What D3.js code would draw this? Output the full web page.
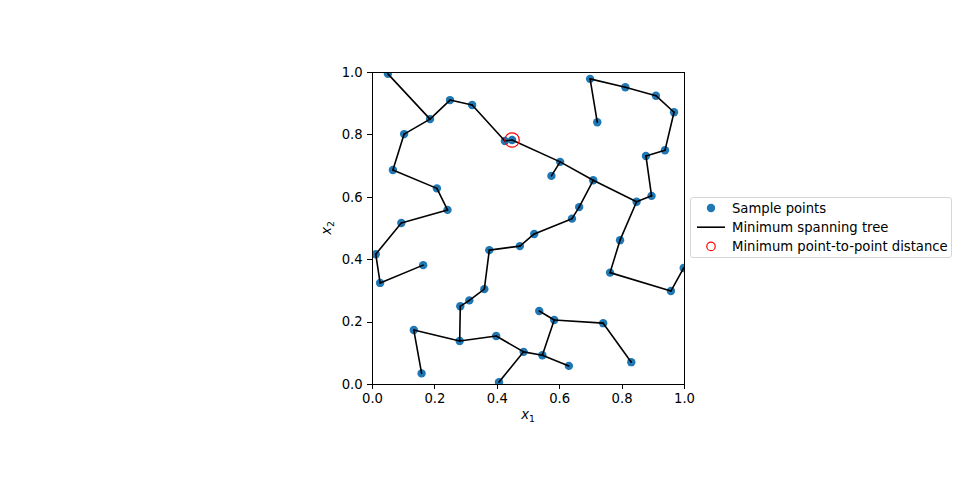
<!DOCTYPE html>
<meta charset="utf-8">
<style>
body { margin: 0; background: #fff; }
svg text { font-family: "DejaVu Sans", sans-serif; font-size: 13.2px; fill: #000; }
.axis path, .axis line { stroke: #000; stroke-width: 1px; shape-rendering: crispEdges; }
.mst line { stroke: #000; stroke-width: 1.6px; stroke-linecap: round; }
</style>
<svg width="960" height="480"></svg>
<script src="https://d3js.org/d3.v7.min.js"></script>
<script>

// sample points
var xs = [0.051, 0.186, 0.250, 0.321, 0.103, 0.426, 0.449, 0.067, 0.208, 0.242,
          0.094, 0.012, 0.026, 0.164, 0.376, 0.474, 0.360, 0.312, 0.283, 0.134,
          0.281, 0.159, 0.398, 0.486, 0.407, 0.546, 0.631, 0.584, 0.536, 0.741,
          0.831, 0.763, 0.795, 0.958, 0.999, 0.520, 0.641, 0.664, 0.699, 0.722,
          0.812, 0.910, 0.968, 0.939, 0.878, 0.896, 0.848, 0.603, 0.575, 0.709];
var ys = [0.994, 0.849, 0.910, 0.894, 0.801, 0.779, 0.782, 0.686, 0.627, 0.558,
          0.516, 0.416, 0.324, 0.381, 0.429, 0.442, 0.304, 0.268, 0.249, 0.173,
          0.138, 0.034, 0.154, 0.103, 0.006, 0.092, 0.058, 0.205, 0.234, 0.195,
          0.070, 0.357, 0.461, 0.298, 0.372, 0.481, 0.530, 0.567, 0.978, 0.839,
          0.951, 0.924, 0.871, 0.749, 0.731, 0.603, 0.584, 0.712, 0.667, 0.653];

// minimum spanning tree edges (1-based point numbers)
var edges = [[1,2],[2,3],[3,4],[4,6],[6,7],[7,48],[2,5],[5,8],[8,9],[9,10],
             [10,11],[11,12],[12,13],[13,14],[48,49],[48,50],[50,47],[50,38],
             [38,37],[37,36],[36,16],[16,15],[15,17],[17,18],[18,19],[19,21],
             [21,20],[20,22],[21,23],[23,24],[24,25],[24,26],[26,27],[26,28],
             [28,29],[28,30],[30,31],[47,46],[47,33],[33,32],[32,34],[34,35],
             [46,45],[45,44],[44,43],[43,42],[42,41],[41,39],[39,40]];

// point where the minimum point-to-point distance is
var minPoint = 7;

var ticks = [0, 0.2, 0.4, 0.6, 0.8, 1.0];
var legendLabels = ["Sample points", "Minimum spanning tree", "Minimum point-to-point distance"];

var svg = d3.select("svg");
var mLeft = 372, mTop = 72, size = 312;

var x = d3.scaleLinear().domain([0, 1]).range([mLeft, mLeft + size]);
var y = d3.scaleLinear().domain([0, 1]).range([mTop + size, mTop]);

var pts = xs.map(function(d, i) { return {x: d, y: ys[i]}; });

var plot = svg.append("g");
plot.append("defs").append("clipPath").attr("id", "clip")
  .append("rect").attr("x", mLeft).attr("y", mTop).attr("width", size).attr("height", size);

var inner = plot.append("g").attr("clip-path", "url(#clip)");

inner.append("g").selectAll("circle")
  .data(pts)
  .enter().append("circle")
  .attr("cx", function(d) { return x(d.x); })
  .attr("cy", function(d) { return y(d.y); })
  .attr("r", 4.2)
  .attr("fill", "#1f77b4");

inner.append("g").attr("class", "mst").selectAll("line")
  .data(edges)
  .enter().append("line")
  .attr("x1", function(d) { return x(pts[d[0] - 1].x); })
  .attr("y1", function(d) { return y(pts[d[0] - 1].y); })
  .attr("x2", function(d) { return x(pts[d[1] - 1].x); })
  .attr("y2", function(d) { return y(pts[d[1] - 1].y); });

inner.append("circle")
  .attr("cx", x(pts[minPoint - 1].x))
  .attr("cy", y(pts[minPoint - 1].y))
  .attr("r", 7.2)
  .attr("fill", "none")
  .attr("stroke", "red")
  .attr("stroke-width", 1.2);

var fmt = d3.format(".1f");

svg.append("g").attr("class", "axis")
  .attr("transform", "translate(0," + (mTop + size) + ")")
  .call(d3.axisBottom(x).tickValues(ticks).tickFormat(fmt).tickSize(4.9).tickPadding(4.5))
  .call(function(g) { g.select(".domain").remove(); });

svg.append("g").attr("class", "axis")
  .attr("transform", "translate(" + mLeft + ",0)")
  .call(d3.axisLeft(y).tickValues(ticks).tickFormat(fmt).tickSize(4.9).tickPadding(4.5))
  .call(function(g) { g.select(".domain").remove(); });

svg.selectAll(".axis text").style("font-size", "13.2px").style("font-family", "DejaVu Sans");

svg.append("rect")
  .attr("x", mLeft).attr("y", mTop).attr("width", size).attr("height", size)
  .attr("fill", "none").attr("stroke", "#000").attr("stroke-width", 1)
  .attr("shape-rendering", "crispEdges");

// axis labels
var xl = svg.append("text").attr("x", x(0.5)).attr("y", 419).attr("text-anchor", "middle");
xl.append("tspan").style("font-style", "italic").text("x");
xl.append("tspan").attr("dy", 3).style("font-size", "9.3px").text("1");

var yl = svg.append("text")
  .attr("transform", "translate(331," + y(0.5) + ") rotate(-90)")
  .attr("text-anchor", "middle");
yl.append("tspan").style("font-style", "italic").text("x");
yl.append("tspan").attr("dy", 3).style("font-size", "9.3px").text("2");

// legend
var lg = svg.append("g").attr("transform", "translate(690,197)");
lg.append("rect")
  .attr("x", 0.5).attr("y", 0.5).attr("width", 261).attr("height", 60)
  .attr("rx", 2.5)
  .attr("fill", "#fff").attr("stroke", "#d6d6d6").attr("stroke-width", 1);

var rows = lg.selectAll("g.row")
  .data(legendLabels)
  .enter().append("g")
  .attr("transform", function(d, i) { return "translate(0," + (11 + i * 19.2) + ")"; });

rows.append("text")
  .attr("x", 42).attr("y", 0).attr("dy", "0.35em")
  .text(function(d) { return d; });

lg.append("circle").attr("cx", 21).attr("cy", 11).attr("r", 4.2).attr("fill", "#1f77b4");
lg.append("line").attr("x1", 7).attr("x2", 35).attr("y1", 30.2).attr("y2", 30.2)
  .attr("stroke", "#000").attr("stroke-width", 1.6);
lg.append("circle").attr("cx", 21).attr("cy", 49.4).attr("r", 4.2)
  .attr("fill", "none").attr("stroke", "red").attr("stroke-width", 1.2);

</script>
